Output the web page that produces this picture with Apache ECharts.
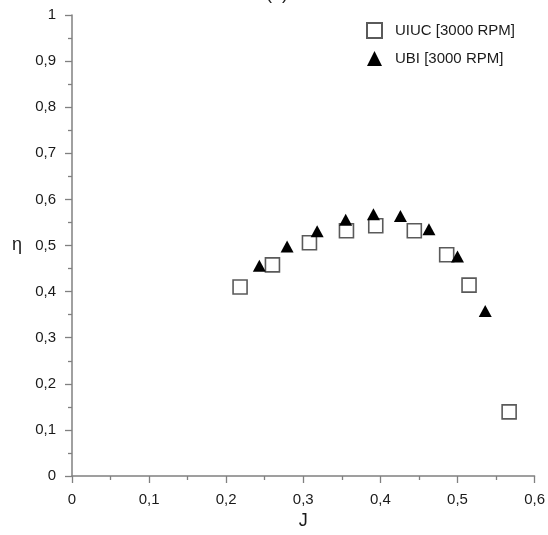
<!DOCTYPE html>
<html>
<head>
<meta charset="utf-8">
<script src="https://cdn.jsdelivr.net/npm/echarts@6/dist/echarts.min.js"></script>
<style>html,body{margin:0;padding:0;background:#fff}#c{width:548px;height:535px}</style>
</head>
<body>
<div id="c"></div>
<script>
const uiucJ   = [0.218, 0.260, 0.308, 0.356, 0.394, 0.444, 0.486, 0.515, 0.567];
const uiucEta = [0.410, 0.458, 0.506, 0.532, 0.543, 0.532, 0.480, 0.414, 0.139];
const ubiJ    = [0.243, 0.279, 0.318, 0.355, 0.391, 0.426, 0.463, 0.500, 0.536];
const ubiEta  = [0.456, 0.498, 0.531, 0.556, 0.568, 0.564, 0.535, 0.476, 0.358];
const seriesNames = ['UIUC [3000 RPM]', 'UBI [3000 RPM]'];

const fmt = v => (v === 0 || v === 1) ? String(v) : v.toFixed(1).replace('.', ',');
const font = 'Liberation Sans, Arial, sans-serif';

const chart = echarts.init(document.getElementById('c'), null, {renderer: 'canvas'});
const axisCommon = {
  type: 'value',
  interval: 0.1,
  axisLine: {show: true, onZero: false, lineStyle: {color: '#808080', width: 1.5}},
  axisTick: {show: true, inside: false, length: 7, lineStyle: {color: '#808080', width: 1.3}},
  minorTick: {show: true, splitNumber: 2, length: 4, lineStyle: {color: '#808080', width: 1.3}},
  splitLine: {show: false},
  axisLabel: {color: '#1a1a1a', fontSize: 15, fontFamily: font, formatter: fmt}
};
chart.setOption({
  animation: false,
  graphic: [{
    type: 'text', left: 266, top: -15,
    style: {text: '(a)', fontSize: 18, fontFamily: font, fill: '#222'}
  }],
  grid: {left: 72, right: 13, top: 15, bottom: 57, containLabel: false},
  legend: {
    orient: 'vertical', left: 366, top: 22, padding: 0, itemWidth: 15, itemHeight: 15, itemGap: 12,
    textStyle: {fontSize: 15, fontFamily: font, color: '#1a1a1a', padding: [0, 0, 0, 8]},
    data: seriesNames
  },
  xAxis: Object.assign({}, axisCommon, {
    min: 0, max: 0.6,
    name: 'J', nameLocation: 'middle', nameGap: 36,
    nameTextStyle: {fontSize: 18, fontFamily: font, color: '#1a1a1a'},
    axisLabel: Object.assign({}, axisCommon.axisLabel, {margin: 16})
  }),
  yAxis: Object.assign({}, axisCommon, {
    min: 0, max: 1,
    name: 'η', nameLocation: 'middle', nameRotate: 0, nameGap: 50,
    nameTextStyle: {fontSize: 18, fontFamily: font, color: '#1a1a1a'},
    axisLabel: Object.assign({}, axisCommon.axisLabel, {margin: 16})
  }),
  series: [
    {
      name: seriesNames[0], type: 'scatter', symbol: 'rect', symbolSize: 14,
      itemStyle: {color: '#fff', borderColor: '#5a5a5a', borderWidth: 1.6, opacity: 1},
      data: uiucJ.map((x, i) => [x, uiucEta[i]]), z: 2
    },
    {
      name: seriesNames[1], type: 'scatter', symbol: 'triangle', symbolSize: [13, 12],
      itemStyle: {color: '#000', opacity: 1},
      data: ubiJ.map((x, i) => [x, ubiEta[i]]), z: 3
    }
  ]
});
</script>
</body>
</html>
